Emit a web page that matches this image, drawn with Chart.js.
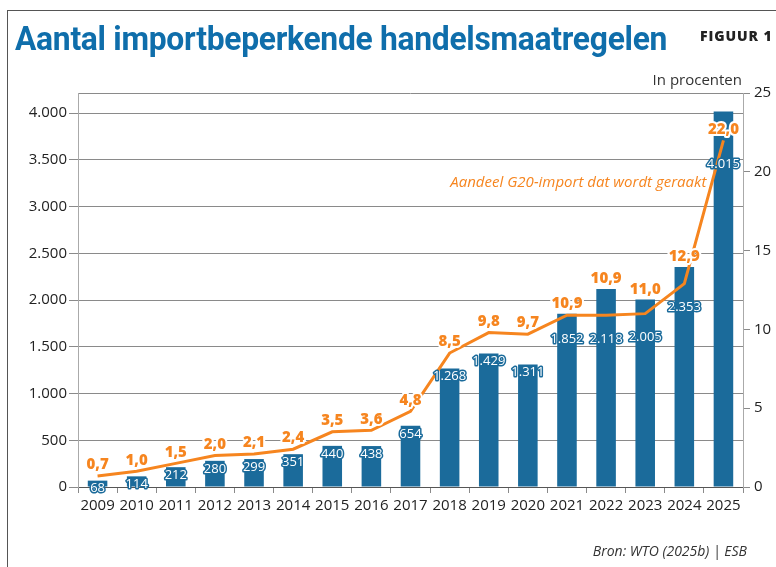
<!DOCTYPE html>
<html>
<head>
<meta charset="utf-8">
<script src="https://cdn.jsdelivr.net/npm/chart.js@4"></script>
<style>
  html, body { margin: 0; padding: 0; background: #fff; }
  #wrap { position: relative; width: 776px; height: 567px; overflow: hidden; }
  #frame { position: absolute; left: 7px; top: 10px; right: -2px; bottom: -2px;
           border-left: 1px solid #555; border-top: 1px solid #555; }
  #title { position: absolute; left: 15px; top: 18px; font: bold 34px Roboto, sans-serif;
           color: #0f6eab; white-space: nowrap; transform-origin: left top; letter-spacing: -0.3px; }
  #fig { position: absolute; left: 700px; top: 26px; font: 900 14px "Open Sans", sans-serif;
         color: #222; letter-spacing: 0.9px; white-space: nowrap; }
  #unit { position: absolute; right: 34px; top: 69px; font: 15px "Open Sans", sans-serif; color: #333; }
  #source { position: absolute; right: 29px; top: 541px; font: italic 14px "Open Sans", sans-serif; color: #333; }
  canvas { position: absolute; left: 0; top: 0; }
</style>
</head>
<body>
<div id="wrap">
  <div id="frame"></div>
  <canvas id="chart" width="776" height="567"></canvas>
  <div id="title">Aantal importbeperkende handelsmaatregelen</div>
  <div id="fig">FIGUUR 1</div>
  <div id="unit">In procenten</div>
  <div id="source">Bron: WTO (2025b) | ESB</div>
</div>
<script>
// gegevens
const years = ["2009", "2010", "2011", "2012", "2013", "2014", "2015", "2016", "2017",
               "2018", "2019", "2020", "2021", "2022", "2023", "2024", "2025"];
const measures = [68, 114, 212, 280, 299, 351, 440, 438, 654,
                  1268, 1429, 1311, 1852, 2118, 2005, 2353, 4015];
const g20Share = [0.7, 1.0, 1.5, 2.0, 2.1, 2.4, 3.5, 3.6, 4.8,
                  8.5, 9.8, 9.7, 10.9, 10.9, 11.0, 12.9, 22.0];
const leftTicks = [0, 500, 1000, 1500, 2000, 2500, 3000, 3500, 4000];
const rightTicks = [0, 5, 10, 15, 20, 25];
const lineLabel = "Aandeel G20-import dat wordt geraakt";

const BLUE = "#1b6b9b";
const ORANGE = "#f6851f";
const GRID = "#8a8a8a";

// titel op breedte brengen
const titleEl = document.getElementById("title");
titleEl.style.transform = `scaleX(${652 / titleEl.scrollWidth})`;

const nl = (v, d) => v.toLocaleString("nl-NL", { minimumFractionDigits: d, maximumFractionDigits: d });

// labels bij staven en lijn
const labelPlugin = {
  id: "labels",
  afterDatasetsDraw(chart) {
    const ctx = chart.ctx;
    const bars = chart.getDatasetMeta(0).data;
    const pts = chart.getDatasetMeta(1).data;
    const top = chart.chartArea.top;
    ctx.save();
    ctx.textAlign = "center";
    ctx.textBaseline = "middle";
    ctx.lineJoin = "round";

    bars.forEach((bar, i) => {
      const p = pts[i];
      // staaflabel: net onder de top, of onder de lijn als die door de staaf loopt
      const y = p.y > bar.y ? p.y + 24 : bar.y + 8;
      ctx.font = "500 13px 'Open Sans', sans-serif";
      ctx.lineWidth = 3;
      ctx.strokeStyle = BLUE;
      ctx.strokeText(nl(measures[i], 0), bar.x, y);
      ctx.fillStyle = "#fff";
      ctx.fillText(nl(measures[i], 0), bar.x, y);
    });

    pts.forEach((p, i) => {
      const bar = bars[i];
      let y = p.y - 11;
      if (bar.y < p.y && bar.y - 10 > top + 20) y = bar.y - 10;
      ctx.font = "800 15px 'Open Sans', sans-serif";
      ctx.lineWidth = 4;
      ctx.strokeStyle = "#fff";
      ctx.strokeText(nl(g20Share[i], 1), p.x, y);
      ctx.fillStyle = ORANGE;
      ctx.fillText(nl(g20Share[i], 1), p.x, y);
    });

    // toelichting bij de lijn
    ctx.font = "italic 15px 'Open Sans', sans-serif";
    ctx.textAlign = "right";
    ctx.fillStyle = ORANGE;
    ctx.fillText(lineLabel, chart.scales.x.getPixelForValue(15) + 22, chart.scales.y2.getPixelForValue(19.3));
    ctx.restore();
  }
};

const tickFont = { size: 15, family: "'Open Sans', sans-serif" };

new Chart(document.getElementById("chart"), {
  data: {
    labels: years,
    datasets: [
      {
        type: "bar",
        data: measures,
        backgroundColor: BLUE,
        barPercentage: 0.5,
        categoryPercentage: 1,
        yAxisID: "y",
        order: 2
      },
      {
        type: "line",
        data: g20Share,
        borderColor: ORANGE,
        borderWidth: 3,
        pointRadius: 0,
        tension: 0,
        yAxisID: "y2",
        order: 1
      }
    ]
  },
  options: {
    responsive: false,
    animation: false,
    layout: { padding: { top: 93, left: 0, right: 0, bottom: 0 } },
    plugins: { legend: { display: false }, tooltip: { enabled: false } },
    scales: {
      x: {
        offset: true,
        grid: { offset: true, drawOnChartArea: false, drawTicks: true, tickLength: 6, color: GRID },
        border: { display: true, color: "#555" },
        ticks: { color: "#222", font: tickFont, padding: 4, maxRotation: 0, autoSkip: false },
        afterFit: s => { s.height = 80; }
      },
      y: {
        type: "linear",
        position: "left",
        min: 0,
        max: 4214,
        afterBuildTicks: s => { s.ticks = leftTicks.map(v => ({ value: v })); },
        ticks: { color: "#222", padding: 2, font: tickFont, callback: v => nl(v, 0) },
        grid: {
          color: ctx => (ctx.tick && ctx.tick.value === 0 ? "#555" : GRID),
          tickColor: GRID,
          tickLength: 9
        },
        border: { display: true, color: "#aaa" },
        afterFit: s => { s.width = 78; }
      },
      y2: {
        type: "linear",
        position: "right",
        min: 0,
        max: 25,
        afterBuildTicks: s => { s.ticks = rightTicks.map(v => ({ value: v })); },
        ticks: { color: "#222", padding: 4, font: tickFont },
        // alleen de bovenste lijn (25) over het plotvlak
        grid: {
          color: ctx => (ctx.tick && ctx.tick.value === 25 ? GRID : "rgba(0,0,0,0)"),
          tickColor: GRID,
          tickLength: 7
        },
        border: { display: true, color: "#aaa" },
        afterFit: s => { s.width = 33; }
      }
    }
  },
  plugins: [labelPlugin]
});
</script>
</body>
</html>
